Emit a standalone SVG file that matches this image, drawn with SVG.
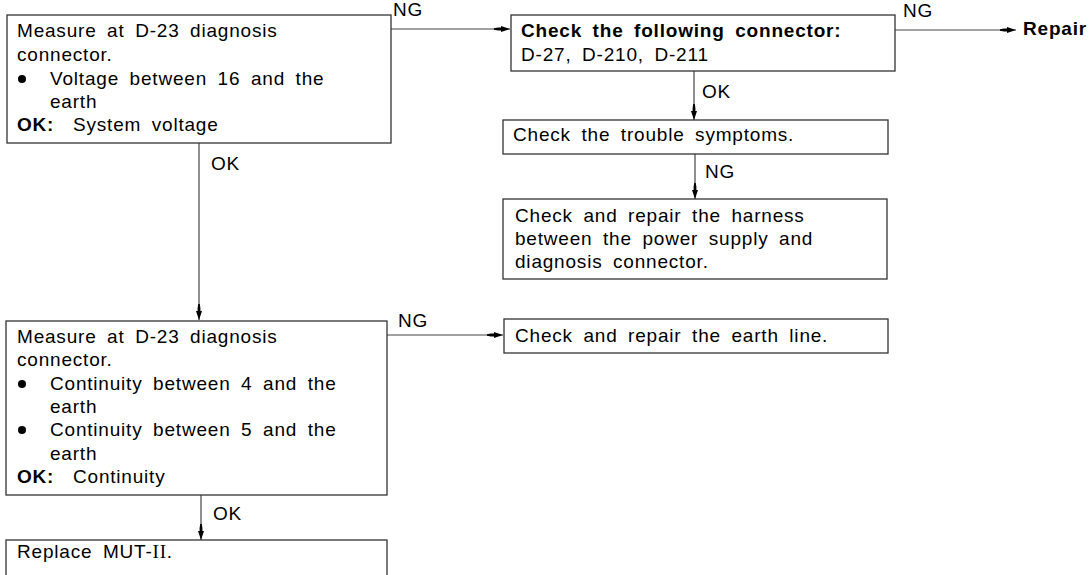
<svg xmlns="http://www.w3.org/2000/svg" width="1089" height="575" viewBox="0 0 1089 575">
<style>
.t{font-family:"Liberation Sans",Arial,Helvetica,sans-serif;font-size:19px;fill:#000;letter-spacing:0.8px;word-spacing:4.5px}
.b{font-weight:bold}
.box{fill:#fff;stroke:#333;stroke-width:1.3}
.c{stroke:#444;stroke-width:1.2;fill:none}
.dot{fill:#000}
</style>
<defs>
<marker id="ah" markerWidth="17" markerHeight="8" refX="16" refY="4" orient="auto" markerUnits="userSpaceOnUse">
<path d="M0,3.2 L4,2.6 L7,2.6 L7,1 L16,4 L7,7 L7,5.4 L4,5.4 L0,4.8 z" fill="#000"/>
</marker>
</defs>
<rect width="1089" height="575" fill="#fff"/>
<g id="connectors">
<line class="c" x1="391" y1="29" x2="510" y2="29" marker-end="url(#ah)"/>
<text class="t" x="393" y="16">NG</text>
<line class="c" x1="895" y1="30" x2="1016" y2="30" marker-end="url(#ah)"/>
<text class="t" x="903" y="17">NG</text>
<line class="c" x1="694" y1="71" x2="694" y2="120" marker-end="url(#ah)"/>
<text class="t" x="702" y="98">OK</text>
<line class="c" x1="695" y1="154" x2="695" y2="199" marker-end="url(#ah)"/>
<text class="t" x="705" y="178">NG</text>
<line class="c" x1="387" y1="335" x2="503" y2="335" marker-end="url(#ah)"/>
<text class="t" x="398" y="327">NG</text>
<line class="c" x1="199" y1="143" x2="199" y2="320" marker-end="url(#ah)"/>
<text class="t" x="211" y="170">OK</text>
<line class="c" x1="201" y1="495" x2="201" y2="540" marker-end="url(#ah)"/>
<text class="t" x="213" y="520">OK</text>
</g>
<g id="n1">
<rect class="box" x="7" y="15" width="384" height="128"/>
<text class="t" x="17" y="37">Measure at D-23 diagnosis</text>
<text class="t" x="17" y="61">connector.</text>
<circle class="dot" cx="22" cy="79" r="4"/>
<text class="t" x="50" y="85">Voltage between 16 and the</text>
<text class="t" x="50" y="108">earth</text>
<text class="t b" x="17" y="131">OK:</text>
<text class="t" x="73" y="131">System voltage</text>
</g>
<g id="n2">
<rect class="box" x="511" y="15" width="384" height="56"/>
<text class="t b" x="521" y="37" letter-spacing="0.95">Check the following connector:</text>
<text class="t" x="521" y="61">D-27, D-210, D-211</text>
</g>
<g id="repair">
<text class="t b" x="1023" y="35">Repair</text>
</g>
<g id="n3">
<rect class="box" x="503" y="120" width="385" height="34"/>
<text class="t" x="513" y="141">Check the trouble symptoms.</text>
</g>
<g id="n4">
<rect class="box" x="503" y="199" width="384" height="80"/>
<text class="t" x="515" y="222">Check and repair the harness</text>
<text class="t" x="515" y="245">between the power supply and</text>
<text class="t" x="515" y="268">diagnosis connector.</text>
</g>
<g id="n5">
<rect class="box" x="504" y="319" width="384" height="34"/>
<text class="t" x="515" y="342">Check and repair the earth line.</text>
</g>
<g id="n6">
<rect class="box" x="6" y="321" width="381" height="174"/>
<text class="t" x="17" y="343">Measure at D-23 diagnosis</text>
<text class="t" x="17" y="366">connector.</text>
<circle class="dot" cx="22" cy="384" r="4"/>
<text class="t" x="50" y="390">Continuity between 4 and the</text>
<text class="t" x="50" y="413">earth</text>
<circle class="dot" cx="22" cy="430" r="4"/>
<text class="t" x="50" y="436">Continuity between 5 and the</text>
<text class="t" x="50" y="460">earth</text>
<text class="t b" x="17" y="483">OK:</text>
<text class="t" x="73" y="483">Continuity</text>
</g>
<g id="n7">
<rect class="box" x="6" y="540" width="381" height="50"/>
<text class="t" x="17" y="558">Replace MUT-<tspan font-family="'Liberation Serif',serif">II</tspan>.</text>
</g>
</svg>
